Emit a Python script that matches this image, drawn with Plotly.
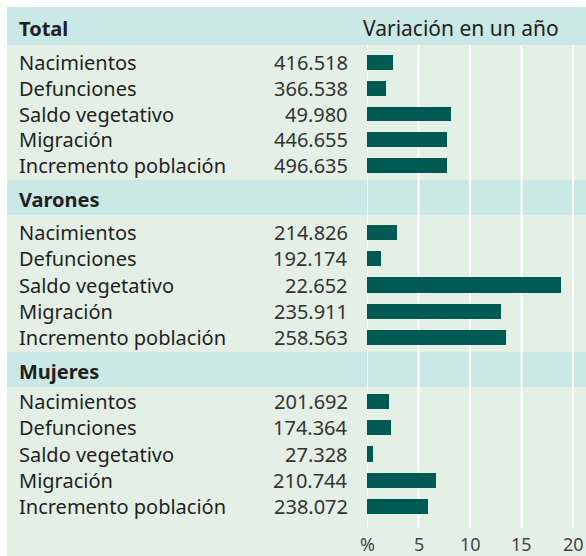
import plotly.graph_objects as go

W, H = 586, 556

grupos = ["Total", "Varones", "Mujeres"]
conceptos = ["Nacimientos", "Defunciones", "Saldo vegetativo", "Migración", "Incremento población"]

total_abs = ["416.518", "366.538", "49.980", "446.655", "496.635"]
total_pct = [2.5, 1.8, 8.2, 7.8, 7.8]
varones_abs = ["214.826", "192.174", "22.652", "235.911", "258.563"]
varones_pct = [2.9, 1.4, 18.8, 13.0, 13.5]
mujeres_abs = ["201.692", "174.364", "27.328", "210.744", "238.072"]
mujeres_pct = [2.1, 2.3, 0.6, 6.7, 5.9]

tick_vals = [0, 5, 10, 15, 20]
tick_text = ["%", "5", "10", "15", "20"]

BAR = "#005a54"
HEAD_BG = "#c9e8e6"
BODY_BG = "#e4f0e6"
TXT = "#231f20"
FONT = "Noto Sans"


def py(px):
    # pixel from top -> paper y
    return 1 - px / H


def px_x(px):
    return px / W


# pixel layout of the panels (top, bottom)
head_px = [(7, 45), (180, 215), (352, 387)]
body_px = [(45, 180), (215, 352), (387, 556)]
plot_px = [(50, 178), (219, 351), (388, 520)]
x_left = 367
x_max = (W - x_left) / 10.3

datos = [(total_abs, total_pct), (varones_abs, varones_pct), (mujeres_abs, mujeres_pct)]

fig = go.Figure()
shapes = []
annotations = []

for i, (grupo, (abs_vals, pct_vals)) in enumerate(zip(grupos, datos)):
    n = "" if i == 0 else str(i + 1)
    fig.add_trace(go.Bar(
        x=pct_vals, y=conceptos, orientation="h",
        xaxis="x" + n, yaxis="y" + n,
        marker=dict(color=BAR, line=dict(width=0)),
        width=0.58, hoverinfo="skip", showlegend=False,
    ))
    fig.update_layout(**{
        "xaxis" + n: dict(domain=[px_x(x_left), 1], range=[0, x_max], visible=False,
                          showgrid=False, zeroline=False, fixedrange=True),
        "yaxis" + n: dict(domain=[py(plot_px[i][1]), py(plot_px[i][0])], type="category",
                          categoryarray=conceptos, range=[4.5, -0.5], visible=False,
                          showgrid=False, zeroline=False),
    })

    # background bands
    ht, hb = head_px[i]
    bt, bb = body_px[i]
    shapes.append(dict(type="rect", xref="paper", yref="paper", x0=px_x(7), x1=1,
                       y0=py(hb), y1=py(ht), fillcolor=HEAD_BG, line=dict(width=0), layer="below"))
    shapes.append(dict(type="rect", xref="paper", yref="paper", x0=px_x(7), x1=1,
                       y0=py(bb), y1=py(bt), fillcolor=BODY_BG, line=dict(width=0), layer="below"))

    annotations.append(dict(text="<b>" + grupo + "</b>", xref="paper", yref="paper",
                            x=px_x(17), y=py((ht + hb) / 2 + 2), xanchor="left", yanchor="middle",
                            showarrow=False, font=dict(family=FONT, size=20, color=TXT)))

    for c, v in zip(conceptos, abs_vals):
        annotations.append(dict(text=c, xref="paper", yref="y" + n, x=px_x(17), y=c,
                                xanchor="left", yanchor="middle", showarrow=False,
                                font=dict(family=FONT, size=20, color=TXT)))
        annotations.append(dict(text=v, xref="paper", yref="y" + n, x=px_x(350), y=c,
                                xanchor="right", yanchor="middle", showarrow=False,
                                font=dict(family=FONT, size=20, color="#333")))

annotations.append(dict(text="Variación en un año", xref="paper", yref="paper",
                        x=px_x(361), y=py(28), xanchor="left", yanchor="middle", showarrow=False,
                        font=dict(family=FONT, size=21, color=TXT)))

# white vertical grid lines
for t in tick_vals:
    shapes.append(dict(type="line", xref="x", yref="paper", x0=t, x1=t,
                       y0=py(528), y1=py(45), line=dict(color="white", width=2), layer="below"))

for t, lab in zip(tick_vals, tick_text):
    annotations.append(dict(text=lab, xref="x3", yref="paper", x=t, y=py(544),
                            xanchor="center", yanchor="middle", showarrow=False,
                            font=dict(family=FONT, size=18, color="#444")))

fig.update_layout(
    width=W, height=H,
    margin=dict(l=0, r=0, t=0, b=0),
    paper_bgcolor="white", plot_bgcolor="rgba(0,0,0,0)",
    shapes=shapes, annotations=annotations,
    bargap=0,
)

fig.write_html("out.html", config={"displayModeBar": False},
               post_script="document.body.style.margin='0';")
